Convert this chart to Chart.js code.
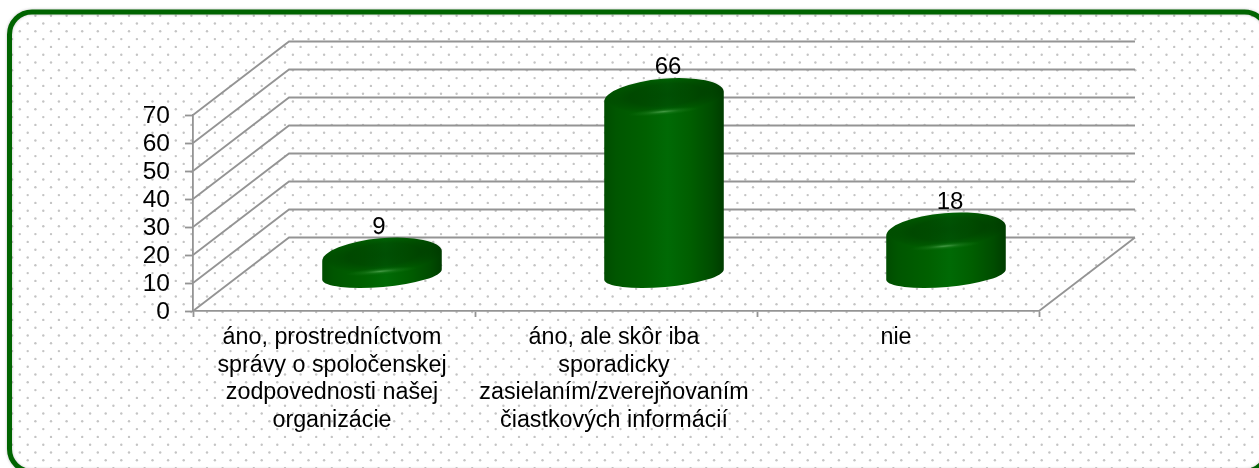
<!DOCTYPE html>
<html lang="sk">
<head>
<meta charset="utf-8">
<title>Graf</title>
<style>
html,body{margin:0;padding:0;background:#fff;overflow:hidden}
canvas{display:block}
</style>
<script src="https://cdn.jsdelivr.net/npm/chart.js@4"></script>
</head>
<body>
<canvas id="c" width="1259" height="468"></canvas>
<script>
const categories = [
  ["áno, prostredníctvom", "správy o spoločenskej", "zodpovednosti našej", "organizácie"],
  ["áno, ale skôr iba", "sporadicky", "zasielaním/zverejňovaním", "čiastkových informácií"],
  ["nie"]
];
const values = [9, 66, 18];
const axisMin = 0;
const axisMax = 70;
const axisStep = 10;

const FONT = "'Liberation Sans', Arial, sans-serif";
const DEPTH_X = 96, DEPTH_Y = 73.5;
const GRID = "#949494";

function cylinder(ctx, cx, yTop, yBase) {
  const rx = 60, rot = -5 * Math.PI / 180;
  const topRy = 18, botRy = 12.5;
  const cyTop = yTop - 29.5, cyBot = yBase - 36;
  ctx.save();
  // body
  const g = ctx.createLinearGradient(cx - rx, 0, cx + rx, 0);
  g.addColorStop(0, "#004c00");
  g.addColorStop(0.1, "#005600");
  g.addColorStop(0.35, "#006000");
  g.addColorStop(0.53, "#006a05");
  g.addColorStop(0.72, "#005e00");
  g.addColorStop(0.9, "#004c00");
  g.addColorStop(1, "#003c00");
  ctx.beginPath();
  ctx.ellipse(cx, cyTop, rx, topRy, rot, Math.PI, 2 * Math.PI);
  ctx.ellipse(cx, cyBot, rx, botRy, rot, 0, Math.PI);
  ctx.closePath();
  ctx.fillStyle = g;
  ctx.fill();
  // cap: a soft darkening that melts into the body at the rim
  ctx.save();
  ctx.translate(cx + 2, cyTop - 2);
  ctx.rotate(rot);
  ctx.beginPath();
  ctx.ellipse(0, 0, rx - 2, topRy, 0, 0, 2 * Math.PI);
  ctx.clip();
  ctx.scale(1, topRy / rx);
  const r = ctx.createRadialGradient(0, 0, 0, 0, 0, rx);
  r.addColorStop(0, "rgba(0,30,0,0.36)");
  r.addColorStop(0.6, "rgba(0,30,0,0.3)");
  r.addColorStop(0.88, "rgba(0,30,0,0.1)");
  r.addColorStop(1, "rgba(0,30,0,0)");
  ctx.fillStyle = r;
  ctx.fillRect(-rx, -rx, 2 * rx, 2 * rx);
  ctx.restore();
  // highlight on the lower rim
  ctx.save();
  ctx.translate(cx - 1, cyTop + 15);
  ctx.rotate(rot);
  ctx.scale(1, 0.1);
  const h = ctx.createRadialGradient(0, 0, 0, 0, 0, 36);
  h.addColorStop(0, "rgba(100,180,100,0.7)");
  h.addColorStop(0.45, "rgba(50,140,50,0.3)");
  h.addColorStop(1, "rgba(20,120,20,0)");
  ctx.fillStyle = h;
  ctx.beginPath();
  ctx.arc(0, 0, 36, 0, 2 * Math.PI);
  ctx.fill();
  ctx.restore();
  ctx.restore();
}

// Each bar element is painted as a cylinder standing half way into the floor.
Chart.BarElement.prototype.draw = function (ctx) {
  const p = this.getProps(["x", "y", "base"], true);
  cylinder(ctx, p.x + DEPTH_X / 2, p.y, p.base);
};

const backdrop = {
  id: "backdrop",
  beforeDraw(chart) {
    const ctx = chart.ctx;
    const L = 9.5, T = 12, W = 1257.5, H = 459.5, R = 22.5;
    ctx.save();
    ctx.fillStyle = "#fff";
    ctx.fillRect(0, 0, chart.width, chart.height);
    ctx.save();
    ctx.beginPath();
    ctx.roundRect(L, T, W, H, R);
    ctx.clip();
    ctx.fillStyle = "#c4c4c4";
    const P = 15.6;
    for (let j = 0; j < 62; j++) {
      const odd = j % 2 === 1;
      for (let i = 0; i < 82; i++) {
        const x = (odd ? 12.1 : 4.2) + i * P;
        const y = 0.1 + j * P / 2;
        ctx.beginPath();
        ctx.arc(x, y, 1.2, 0, 2 * Math.PI);
        ctx.fill();
      }
    }
    ctx.restore();
    ctx.shadowColor = "rgba(0,0,0,0.25)";
    ctx.shadowBlur = 3;
    ctx.strokeStyle = "#006400";
    ctx.lineWidth = 5;
    ctx.beginPath();
    ctx.roundRect(L, T, W, H, R);
    ctx.stroke();
    ctx.restore();
  }
};

const walls = {
  id: "walls",
  beforeDatasetsDraw(chart) {
    const ctx = chart.ctx, y = chart.scales.y, a = chart.chartArea;
    ctx.save();
    ctx.strokeStyle = GRID;
    ctx.lineWidth = 1.8;
    ctx.beginPath();
    for (const t of y.ticks) {
      const py = y.getPixelForValue(t.value);
      ctx.moveTo(a.left, py);
      ctx.lineTo(a.left + DEPTH_X, py - DEPTH_Y);
      ctx.lineTo(a.right + DEPTH_X, py - DEPTH_Y);
    }
    ctx.moveTo(a.right, a.bottom);
    ctx.lineTo(a.right + DEPTH_X, a.bottom - DEPTH_Y);
    ctx.stroke();
    ctx.restore();
  }
};

const valueLabels = {
  id: "valueLabels",
  afterDatasetsDraw(chart) {
    const ctx = chart.ctx;
    const meta = chart.getDatasetMeta(0);
    ctx.save();
    ctx.fillStyle = "#000";
    ctx.font = "24px " + FONT;
    ctx.textAlign = "center";
    ctx.textBaseline = "middle";
    meta.data.forEach((bar, i) => {
      ctx.fillText(String(values[i]), bar.x + DEPTH_X / 2 + (i ? 4 : -3), bar.y - 58.5);
    });
    ctx.restore();
  }
};

new Chart(document.getElementById("c"), {
  type: "bar",
  data: {
    labels: categories,
    datasets: [{ data: values, backgroundColor: "#006400", clip: false }]
  },
  options: {
    responsive: false,
    animation: false,
    events: [],
    layout: { padding: { left: 0, top: 115, right: 220, bottom: 0 } },
    plugins: { legend: { display: false }, tooltip: { enabled: false }, title: { display: false } },
    scales: {
      x: {
        afterFit(s) { s.height = 157; },
        grid: { drawOnChartArea: false, drawTicks: true, tickLength: 6, tickColor: GRID, tickWidth: 1.8 },
        border: { display: true, color: GRID, width: 1.8 },
        ticks: {
          color: "#000", maxRotation: 0, minRotation: 0, autoSkip: false, padding: 6.5, labelOffset: -2,
          font: { family: FONT, size: 23.3, lineHeight: 1.19 }
        }
      },
      y: {
        min: axisMin, max: axisMax,
        afterFit(s) { s.width = 193; },
        grid: { drawOnChartArea: false, drawTicks: true, tickLength: 8, tickColor: GRID, tickWidth: 1.8 },
        border: { display: true, color: GRID, width: 1.8 },
        ticks: {
          stepSize: axisStep, color: "#000", padding: 15, autoSkip: false, labelOffset: 1.5,
          font: { family: FONT, size: 24.5 }
        }
      }
    }
  },
  plugins: [backdrop, walls, valueLabels]
});
</script>
</body>
</html>
